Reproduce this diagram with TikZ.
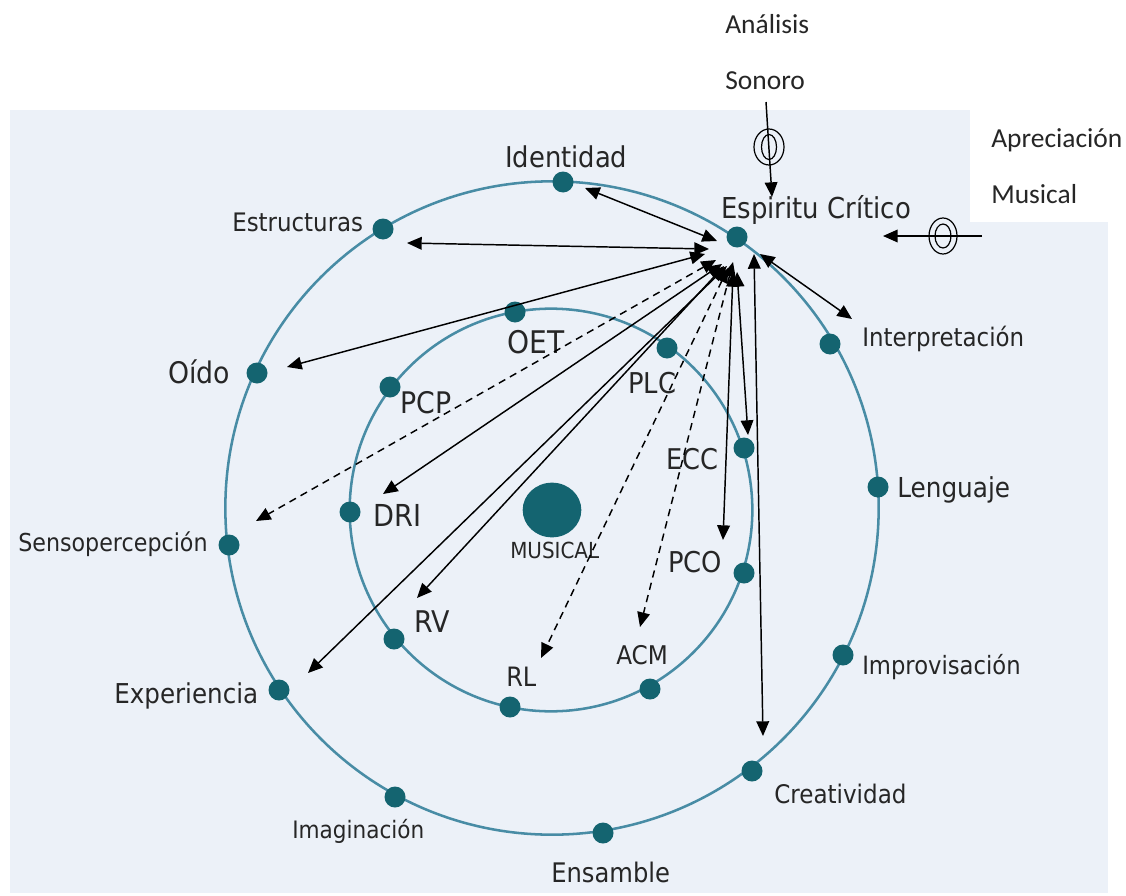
\documentclass[tikz,border=0pt]{standalone}
\usepackage{fontspec}
\usetikzlibrary{arrows.meta,shapes.geometric}
\newfontfamily\labfont[FakeStretch=0.9]{DejaVu Sans}
\newfontfamily\notefont{Carlito}
\definecolor{bgc}{RGB}{236,241,248}
\definecolor{ringc}{RGB}{72,140,165}
\definecolor{dotc}{RGB}{20,100,112}
\definecolor{txtc}{RGB}{38,38,38}
\newcommand\fsz[1]{\fontsize{#1pt}{#1pt}\selectfont}

\begin{document}
\begin{tikzpicture}[x=0.75pt,y=-0.75pt,
  ring/.style={draw=ringc,line width=1.9pt},
  dot/.style={circle,fill=dotc,inner sep=0pt,minimum size=15.75pt},
  bigdot/.style={ellipse,fill=dotc,inner sep=0pt,minimum width=44pt,minimum height=41pt},
  lbl/.style={anchor=base west,inner sep=0pt,text=txtc,font=\labfont},
  note/.style={anchor=base west,inner sep=0pt,text=black!85,font=\notefont\fsz{20.6}},
  tip/.tip={Triangle[length=11pt,width=9.5pt]},
  link/.style={line width=1.1pt,tip-tip},
  dlink/.style={link,dash pattern=on 5.5pt off 4pt},
  feed/.style={line width=1.1pt,-tip},
  oval/.style={draw,line width=0.9pt}
]
\useasboundingbox (0,0) rectangle (1126,895);

% panel
\fill[bgc] (10,110) rectangle (1108,893);
\fill[white] (970,110) rectangle (1126,222);

% rings
\draw[ring] (552,508) circle[radius=245pt];
\draw[ring] (551,510) circle[radius=151pt];

% outer ring points
\node[dot] (d-ident) at (563,182) {};
\node[dot] (d-estr)  at (383,229) {};
\node[dot] (d-oido)  at (257,373) {};
\node[dot] (d-senso) at (229,545) {};
\node[dot] (d-exper) at (279,690) {};
\node[dot] (d-imag)  at (395,797) {};
\node[dot] (d-ens)   at (603,833) {};
\node[dot] (d-creat) at (752,771) {};
\node[dot] (d-impro) at (843,655) {};
\node[dot] (d-leng)  at (878,487) {};
\node[dot] (d-interp) at (830,344) {};
\node[dot] (d-esp)   at (737,237) {};

% inner ring points
\node[dot] (d-oet) at (515,312) {};
\node[dot] (d-plc) at (667,348) {};
\node[dot] (d-ecc) at (744,448) {};
\node[dot] (d-pco) at (744,573) {};
\node[dot] (d-acm) at (650,689) {};
\node[dot] (d-rl)  at (510,707) {};
\node[dot] (d-rv)  at (394,639) {};
\node[dot] (d-dri) at (350,512) {};
\node[dot] (d-pcp) at (390,387) {};

% centre
\node[bigdot] (d-mus) at (552,510) {};

% outer labels
\node[lbl] (l-ident)  at (505,167) {\fsz{21.5}Identidad};
\node[lbl] (l-estr)   at (232,231) {\fsz{19.1}Estructuras};
\node[lbl] (l-oido)   at (168,383) {\fsz{22.3}Oído};
\node[lbl] (l-senso)  at (18,551)  {\fsz{18.5}Sensopercepción};
\node[lbl] (l-exper)  at (114,703) {\fsz{20.5}Experiencia};
\node[lbl] (l-imag)   at (292,838) {\fsz{18}Imaginación};
\node[lbl] (l-ens)    at (551,882) {\fsz{20.2}Ensamble};
\node[lbl] (l-creat)  at (774,803) {\fsz{19.2}Creatividad};
\node[lbl] (l-impro)  at (862,674) {\fsz{18.9}Improvisación};
\node[lbl] (l-leng)   at (897,497) {\fsz{20.6}Lenguaje};
\node[lbl] (l-interp) at (862,346) {\fsz{19.1}Interpretación};
\node[lbl] (l-esp)    at (721,218) {\fsz{21.6}Espiritu Crítico};

% inner labels
\node[lbl] (l-oet) at (507,353) {\fsz{23.4}OET};
\node[lbl] (l-pcp) at (400,413) {\fsz{22.3}PCP};
\node[lbl] (l-plc) at (628,393) {\fsz{21.5}PLC};
\node[lbl] (l-ecc) at (666,469) {\fsz{21.4}ECC};
\node[lbl] (l-dri) at (373,526) {\fsz{22.7}DRI};
\node[lbl] (l-pco) at (668,572) {\fsz{21.5}PCO};
\node[lbl] (l-rv)  at (414,632) {\fsz{22.4}RV};
\node[lbl] (l-rl)  at (506,686) {\fsz{20}RL};
\node[lbl] (l-acm) at (616,664) {\fsz{19.3}ACM};
\node[lbl] (l-mus) at (510,558) {\fsz{16.6}MUSICAL};

% notes above
\node[note] (n-ana) at (725,34)  {Análisis};
\node[note] (n-son) at (725,90)  {Sonoro};
\node[note] (n-apr) at (991,147) {Apreciación};
\node[note] (n-mus) at (991,203) {Musical};

% arrow ends: hub side (h-) and far side (f-)
\coordinate (h-ident)  at (717,241); \coordinate (f-ident)  at (585,188);
\coordinate (h-estr)   at (709,249); \coordinate (f-estr)   at (407,243);
\coordinate (h-oido)   at (705,254); \coordinate (f-oido)   at (287,367);
\coordinate (h-senso)  at (716,260); \coordinate (f-senso)  at (256,521);
\coordinate (h-dri)    at (722,264); \coordinate (f-dri)    at (383,494);
\coordinate (h-rv)     at (724,266); \coordinate (f-rv)     at (417,598);
\coordinate (h-exper)  at (727,266); \coordinate (f-exper)  at (308,673);
\coordinate (h-rl)     at (728,268); \coordinate (f-rl)     at (541,658);
\coordinate (h-acm)    at (733,262); \coordinate (f-acm)    at (640,627);
\coordinate (h-pco)    at (733,272); \coordinate (f-pco)    at (723,540);
\coordinate (h-ecc)    at (737,272); \coordinate (f-ecc)    at (748,435);
\coordinate (h-creat)  at (754,254); \coordinate (f-creat)  at (763,736);
\coordinate (h-interp) at (760,254); \coordinate (f-interp) at (852,319);

\draw[link]  (h-ident)  -- (f-ident);
\draw[link]  (h-estr)   -- (f-estr);
\draw[link]  (h-oido)   -- (f-oido);
\draw[dlink] (h-senso)  -- (f-senso);
\draw[link]  (h-dri)    -- (f-dri);
\draw[link]  (h-rv)     -- (f-rv);
\draw[link]  (h-exper)  -- (f-exper);
\draw[dlink] (h-rl)     -- (f-rl);
\draw[dlink] (h-acm)    -- (f-acm);
\draw[link]  (h-pco)    -- (f-pco);
\draw[link]  (h-ecc)    -- (f-ecc);
\draw[link]  (h-creat)  -- (f-creat);
\draw[link]  (h-interp) -- (f-interp);

% incoming feeds with ring marks
\coordinate (s-start) at (766,102); \coordinate (s-tip) at (772,197);
\draw[feed] (s-start) -- (s-tip);
\draw[oval] (769,147) ellipse[x radius=15, y radius=18];
\draw[oval] (769,147) ellipse[x radius=7.5, y radius=12.5];

\coordinate (a-start) at (982,236); \coordinate (a-tip) at (883,236);
\draw[feed] (a-start) -- (a-tip);
\draw[oval] (943,236) ellipse[x radius=14, y radius=18];
\draw[oval] (943,236) ellipse[x radius=8, y radius=12];
\end{tikzpicture}
\end{document}
